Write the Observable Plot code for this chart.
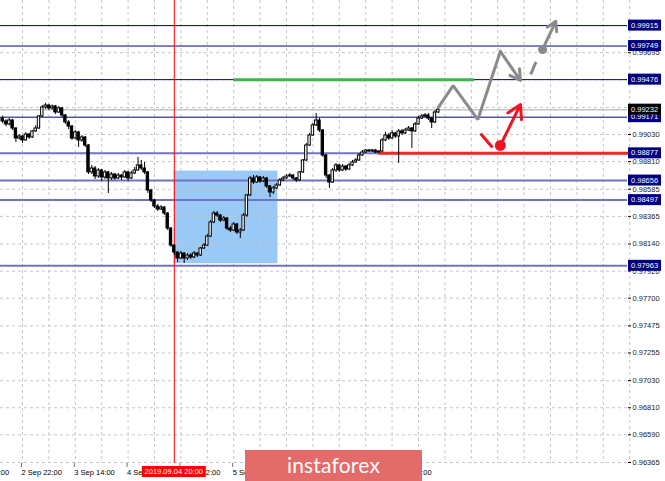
<!DOCTYPE html>
<html><head><meta charset="utf-8">
<script src="https://cdn.jsdelivr.net/npm/d3@7"></script>
<script src="https://cdn.jsdelivr.net/npm/@observablehq/plot@0.6"></script>
<style>
body{margin:0;background:#fff;}
#wrap{position:relative;width:665px;height:481px;overflow:hidden;background:#fff;}
#logo{position:absolute;left:245px;top:450px;width:177px;height:31px;background:#e36c6b;color:#fff;
font-family:Lato,'Open Sans',sans-serif;font-size:21px;line-height:29px;text-align:center;letter-spacing:0.2px;}
</style></head><body><div id="wrap"><div id="logo">instaforex</div></div>
<script>
// bar index = trading hour counted from 2 Sep 2019 00:00 (H1 bars)
const hours = d3.range(16, 149);
const opens = [0.99160,0.99136,0.99112,0.99144,0.99079,0.98998,0.99014,0.98982,0.99030,0.99006,
0.99055,0.99079,0.99177,0.99250,0.99266,0.99242,0.99258,0.99209,0.99242,0.99185,
0.99128,0.99095,0.98998,0.99047,0.98982,0.99006,0.98941,0.98722,0.98754,0.98689,
0.98738,0.98681,0.98722,0.98673,0.98705,0.98673,0.98697,0.98681,0.98722,0.98673,
0.98714,0.98738,0.98779,0.98754,0.98722,0.98575,0.98494,0.98445,0.98421,0.98437,
0.98388,0.98266,0.98128,0.98071,0.98023,0.98063,0.98023,0.98047,0.98031,0.98063,
0.98047,0.98104,0.98128,0.98201,0.98315,0.98388,0.98372,0.98331,0.98348,0.98266,
0.98250,0.98299,0.98234,0.98250,0.98372,0.98535,0.98673,0.98640,0.98681,0.98649,
0.98673,0.98608,0.98559,0.98592,0.98616,0.98657,0.98673,0.98689,0.98697,0.98673,
0.98657,0.98722,0.98819,0.98941,0.99022,0.99104,0.99144,0.99063,0.98860,0.98697,
0.98640,0.98738,0.98779,0.98738,0.98770,0.98746,0.98779,0.98803,0.98819,0.98860,
0.98884,0.98900,0.98892,0.98900,0.98884,0.98892,0.98982,0.99022,0.98998,0.99039,
0.99014,0.99055,0.99039,0.99063,0.99079,0.99055,0.99112,0.99160,0.99177,0.99185,
0.99160,0.99128,0.99209];
const closes = [0.99136,0.99112,0.99144,0.99079,0.98998,0.99014,0.98982,0.99030,0.99006,0.99055,
0.99079,0.99177,0.99250,0.99266,0.99242,0.99258,0.99209,0.99242,0.99185,0.99128,
0.99095,0.98998,0.99047,0.98982,0.99006,0.98941,0.98722,0.98754,0.98689,0.98738,
0.98681,0.98722,0.98673,0.98705,0.98673,0.98697,0.98681,0.98722,0.98673,0.98714,
0.98738,0.98779,0.98754,0.98722,0.98575,0.98494,0.98445,0.98421,0.98437,0.98388,
0.98266,0.98128,0.98071,0.98023,0.98063,0.98023,0.98047,0.98031,0.98063,0.98047,
0.98104,0.98128,0.98201,0.98315,0.98388,0.98372,0.98331,0.98348,0.98266,0.98250,
0.98299,0.98234,0.98250,0.98372,0.98535,0.98673,0.98640,0.98681,0.98649,0.98673,
0.98608,0.98559,0.98592,0.98616,0.98657,0.98673,0.98689,0.98697,0.98673,0.98657,
0.98722,0.98819,0.98941,0.99022,0.99104,0.99144,0.99063,0.98860,0.98697,0.98640,
0.98738,0.98779,0.98738,0.98770,0.98746,0.98779,0.98803,0.98819,0.98860,0.98884,
0.98900,0.98892,0.98900,0.98884,0.98892,0.98982,0.99022,0.98998,0.99039,0.99014,
0.99055,0.99039,0.99063,0.99079,0.99055,0.99112,0.99160,0.99177,0.99185,0.99160,
0.99128,0.99209,0.99232];
const highs = [0.99180,0.99150,0.99160,0.99152,0.99085,0.99030,0.99022,0.99045,0.99040,0.99063,
0.99100,0.99185,0.99266,0.99283,0.99275,0.99270,0.99266,0.99258,0.99250,0.99193,
0.99144,0.99104,0.99063,0.99055,0.99022,0.99014,0.98949,0.98779,0.98770,0.98754,
0.98746,0.98738,0.98730,0.98722,0.98714,0.98714,0.98705,0.98738,0.98730,0.98730,
0.98762,0.98844,0.98819,0.98803,0.98730,0.98584,0.98502,0.98462,0.98453,0.98445,
0.98396,0.98275,0.98136,0.98080,0.98080,0.98071,0.98063,0.98063,0.98080,0.98071,
0.98112,0.98145,0.98218,0.98331,0.98405,0.98405,0.98380,0.98364,0.98356,0.98283,
0.98315,0.98307,0.98266,0.98388,0.98543,0.98689,0.98697,0.98697,0.98689,0.98689,
0.98681,0.98616,0.98608,0.98632,0.98673,0.98689,0.98705,0.98714,0.98705,0.98681,
0.98730,0.98827,0.98957,0.99039,0.99120,0.99201,0.99160,0.99071,0.98868,0.98705,
0.98754,0.98795,0.98787,0.98787,0.98779,0.98795,0.98819,0.98835,0.98876,0.98900,
0.98909,0.98909,0.98909,0.98909,0.98900,0.98998,0.99047,0.99039,0.99063,0.99047,
0.99071,0.99071,0.99079,0.99095,0.99087,0.99128,0.99177,0.99193,0.99201,0.99201,
0.99169,0.99225,0.99258];
const lows = [0.99120,0.99095,0.99100,0.99063,0.98965,0.98985,0.98957,0.98975,0.98990,0.98998,
0.99047,0.99071,0.99169,0.99234,0.99225,0.99230,0.99193,0.99201,0.99169,0.99112,
0.99071,0.98982,0.98990,0.98925,0.98965,0.98925,0.98705,0.98705,0.98665,0.98673,
0.98649,0.98665,0.98551,0.98657,0.98657,0.98665,0.98657,0.98673,0.98649,0.98665,
0.98705,0.98730,0.98738,0.98705,0.98551,0.98478,0.98429,0.98405,0.98413,0.98372,
0.98250,0.98112,0.98047,0.97990,0.98015,0.97982,0.98006,0.98015,0.98023,0.98031,
0.98039,0.98096,0.98120,0.98193,0.98307,0.98356,0.98315,0.98323,0.98250,0.98234,
0.98242,0.98218,0.98185,0.98242,0.98356,0.98526,0.98624,0.98632,0.98632,0.98640,
0.98592,0.98518,0.98543,0.98584,0.98608,0.98649,0.98665,0.98681,0.98657,0.98640,
0.98649,0.98714,0.98811,0.98933,0.99014,0.99095,0.99047,0.98844,0.98673,0.98592,
0.98632,0.98722,0.98722,0.98730,0.98730,0.98738,0.98770,0.98795,0.98811,0.98852,
0.98876,0.98884,0.98884,0.98876,0.98876,0.98884,0.98974,0.98982,0.98990,0.98998,
0.98795,0.99022,0.99030,0.99055,0.98917,0.99047,0.99104,0.99152,0.99169,0.99144,
0.99079,0.99120,0.99201];

// price axis ticks and levels
const priceTicks = [0.96365,0.96590,0.96810,0.97030,0.97255,0.97475,0.97700,0.97920,0.98140,0.98365,0.98585,0.98810,0.99030,0.99250,0.99475,0.99695,0.99915];
const upperLevels = [0.99915,0.99749,0.99476,0.99171];
const lowerLevels = [0.98877,0.98656,0.98497,0.97963];
const lastPrice = 0.99232;
// time axis
const gridHours = d3.range(14, 210, 8);
const labelHours = [6,22,38,54,70,86,102,118,134];
const labelTexts = ["2 Sep 06:00","2 Sep 22:00","3 Sep 14:00","4 Sep 06:00","4 Sep 22:00","5 Sep 14:00","6 Sep 06:00","6 Sep 22:00","9 Sep 14:00"];
const markerHour = 68, markerText = "2019.09.04 20:00";
// drawn objects
const zone = [{h1:68, h2:99.4, p1:0.97980, p2:0.98733}];
const greenSeg = [{p:0.99476, h1:86, h2:159}];
const redSeg = [{p:0.98877, h1:130, h2:206}];
const grayPathH = [148, 152.5, 160, 166.8];
const grayPathP = [0.99250, 0.99428, 0.99152, 0.99705];
const grayArrows = [{h1:166.8,p1:0.99705,h2:172.9,p2:0.99469},{h1:179.6,p1:0.99721,h2:183.6,p2:0.99950}];
const grayDash = [{h1:176,p1:0.99518,h2:177.6,p2:0.99620}];
const grayDot = [{h:179.6,p:0.99721}];
const redStroke = [{h1:160.8,p1:0.99039,h2:164.4,p2:0.98925}];
const redArrow = [{h1:166.8,p1:0.98941,h2:172.9,p2:0.99274}];
const redDot = [{h:166.8,p:0.98941}];

const bars = hours.map((h,i)=>({h, o:opens[i], hi:highs[i], lo:lows[i], c:closes[i]}));
const grayPath = grayPathH.map((h,i)=>({h, p:grayPathP[i]}));
const grid = {stroke:"#c6c6c6", strokeDasharray:"3,3", strokeWidth:1};

const chart = Plot.plot({
  width:665, height:481, marginLeft:0, marginRight:38, marginTop:0, marginBottom:18,
  x:{domain:[15.333,205.333]}, y:{domain:[0.96357,1.00119]},
  style:{fontFamily:"'Liberation Sans', Arial, sans-serif", fontSize:"7.5px", background:"white", color:"#000", overflow:"visible"},
  marks:[
    Plot.rect(zone, {x1:"h1", x2:"h2", y1:"p1", y2:"p2", fill:"#99c9f7"}),
    Plot.ruleX(gridHours, grid),
    Plot.ruleY(priceTicks, grid),
    Plot.ruleY([lastPrice], {stroke:"#c4c4c4", strokeWidth:1.5}),
    Plot.ruleY(upperLevels, {stroke:"#000080", strokeWidth:1}),
    Plot.ruleY(lowerLevels, {stroke:"#7272c2", strokeWidth:2}),
    Plot.ruleY(greenSeg, {y:"p", x1:"h1", x2:"h2", stroke:"#3cb44b", strokeWidth:3}),
    Plot.ruleY(redSeg, {y:"p", x1:"h1", x2:"h2", stroke:"#f02828", strokeWidth:3}),
    Plot.ruleX([markerHour], {stroke:"#ff0000", strokeWidth:1}),
    Plot.ruleX(bars, {x:"h", y1:"lo", y2:"hi", stroke:"#000", strokeWidth:1}),
    Plot.rect(bars, {x1:d=>d.h-0.36, x2:d=>d.h+0.36, y1:"o", y2:"c", fill:d=>d.c>=d.o?"#fff":"#000", stroke:"#000", strokeWidth:1}),
    Plot.line(grayPath, {x:"h", y:"p", stroke:"#8a8a8a", strokeWidth:3, strokeLinejoin:"miter"}),
    Plot.arrow(grayArrows, {x1:"h1", y1:"p1", x2:"h2", y2:"p2", stroke:"#8a8a8a", strokeWidth:3, headLength:10}),
    Plot.link(grayDash, {x1:"h1", y1:"p1", x2:"h2", y2:"p2", stroke:"#8a8a8a", strokeWidth:3}),
    Plot.dot(grayDot, {x:"h", y:"p", r:4.5, fill:"#8a8a8a"}),
    Plot.link(redStroke, {x1:"h1", y1:"p1", x2:"h2", y2:"p2", stroke:"#f0141e", strokeWidth:3}),
    Plot.arrow(redArrow, {x1:"h1", y1:"p1", x2:"h2", y2:"p2", stroke:"#f0141e", strokeWidth:3, headLength:10}),
    Plot.dot(redDot, {x:"h", y:"p", r:5.5, fill:"#f0141e"}),
    Plot.axisY({anchor:"right", ticks:priceTicks, tickFormat:d=>d.toFixed(5), tickSize:3, tickPadding:2, line:true, fill:"#222"}),
    Plot.axisX({anchor:"bottom", ticks:labelHours, tickFormat:d=>labelTexts[labelHours.indexOf(d)], tickSize:4, tickPadding:2, textAnchor:"start", dx:-1, line:true, stroke:"#707070", fill:"#000"})
  ]
});
document.getElementById("wrap").insertBefore(chart, document.getElementById("logo"));

// price boxes on the right axis, placed with the chart's y scale
const ys = chart.scale("y"), xs = chart.scale("x");
const svg = d3.select(chart);
const g = svg.append("g").attr("font-family","'Liberation Sans', Arial, sans-serif").attr("font-size","7.5px").attr("text-anchor","start");
const boxes = upperLevels.concat(lowerLevels).map(v=>({v, fill:"#000080"})).concat([{v:lastPrice, fill:"#000"}]);
boxes.forEach(b=>{
  const y = ys.apply(b.v);
  g.append("rect").attr("x",628).attr("y",y-5.5).attr("width",33).attr("height",11).attr("fill",b.fill);
  g.append("text").attr("x",631).attr("y",y).attr("dy","0.35em").attr("text-anchor","start").attr("fill","#fff").text(b.v.toFixed(5));
});
const mx = xs.apply(markerHour);
g.append("rect").attr("x",mx-32).attr("y",466).attr("width",64).attr("height",11).attr("fill","#ff0000");
g.append("text").attr("x",mx).attr("y",471.5).attr("dy","0.35em").attr("text-anchor","middle").attr("fill","#fff").text(markerText);
</script></body></html>
